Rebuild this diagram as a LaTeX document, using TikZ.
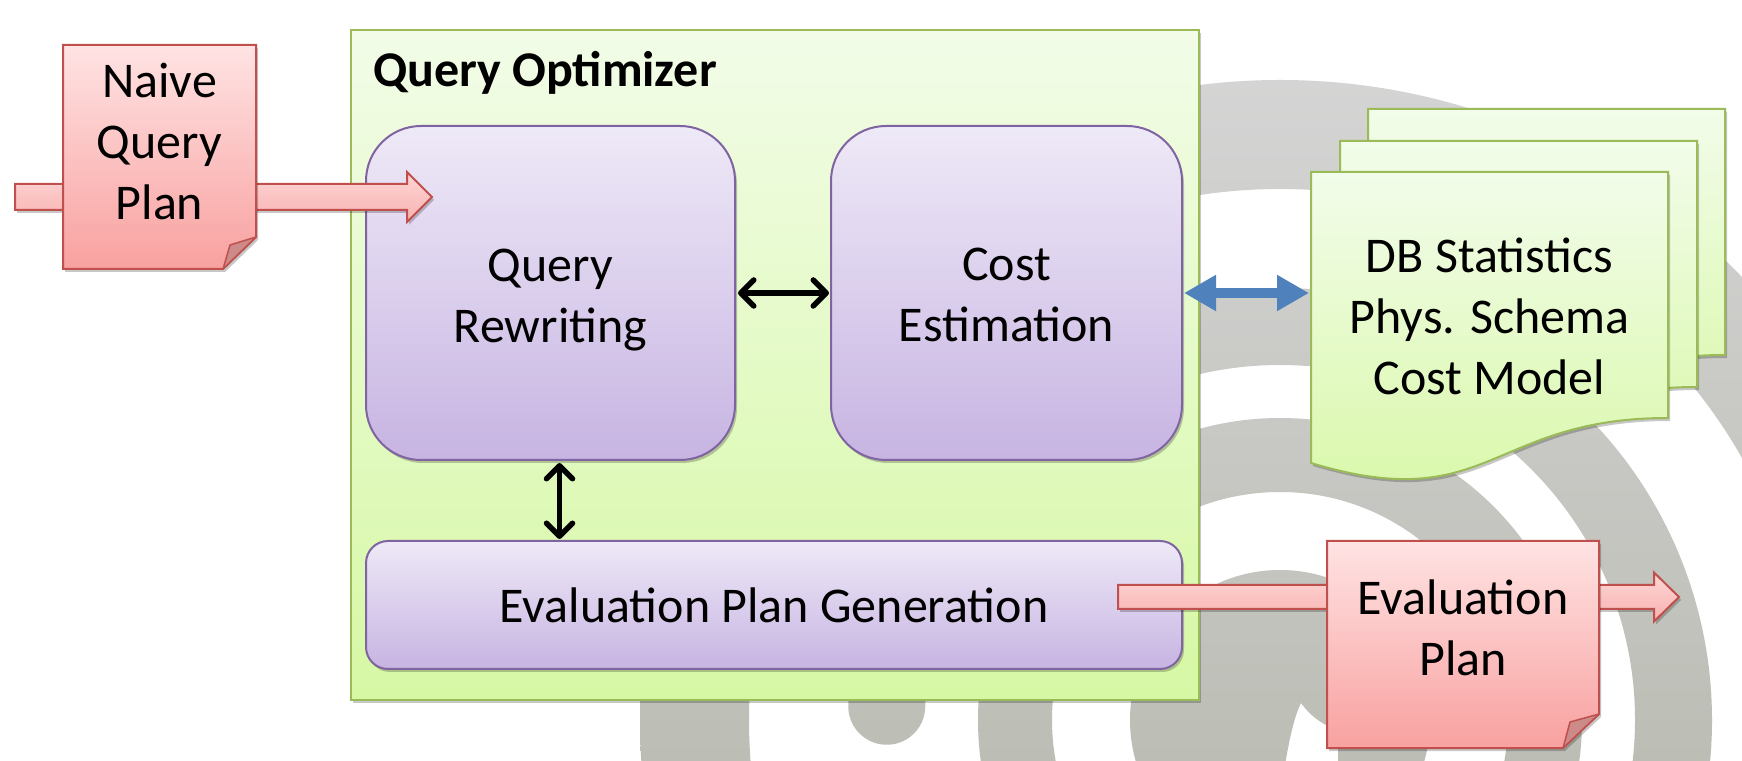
\documentclass[tikz,border=0pt]{standalone}
\usepackage{fontspec}
\setmainfont{Carlito}
\usetikzlibrary{arrows.meta,calc,shadows}

\definecolor{qotop}{HTML}{F2FCE8}
\definecolor{qobot}{HTML}{D6F8A4}
\definecolor{qoline}{HTML}{9BBB59}
\definecolor{ptop}{HTML}{EEE9F7}
\definecolor{pbot}{HTML}{C7B4E2}
\definecolor{pline}{HTML}{8064A2}
\definecolor{rtop}{HTML}{FFE3E3}
\definecolor{rbot}{HTML}{F8A1A0}
\definecolor{rline}{HTML}{C0504D}
\definecolor{atop}{HTML}{FDD6D5}
\definecolor{abot}{HTML}{F8B2B1}
\definecolor{foldc}{HTML}{CC8A89}
\definecolor{gtop}{HTML}{F2FCEA}
\definecolor{gbot}{HTML}{D8F8A6}
\definecolor{blueA}{HTML}{4F81BD}
\definecolor{ringtop}{HTML}{D4D4D4}
\definecolor{ringbot}{HTML}{A7AA9A}

\newcommand\mylines[1]{\begin{tabular}[t]{@{}c@{}}#1\end{tabular}}

\begin{document}
\begin{tikzpicture}[x=1pt,y=1pt,
  txt/.style={font=\fontsize{50}{61}\selectfont, inner sep=0pt, outer sep=0pt, text=black},
  softshadow/.style={drop shadow={shadow xshift=2pt,shadow yshift=-3pt,opacity=0.22,fill=black}},
  qobox/.style={draw=qoline, line width=2pt, top color=qotop, bottom color=qobot, inner sep=0pt, outer sep=0pt, softshadow},
  procbox/.style={draw=pline, line width=2pt, top color=ptop, bottom color=pbot, inner sep=0pt, outer sep=0pt, softshadow},
  holder/.style={draw=none, fill=none, inner sep=0pt, outer sep=0pt},
  reddoc/.style={draw=rline, line width=2pt, top color=rtop, bottom color=rbot, softshadow},
  foldpart/.style={draw=rline, line width=1.5pt, fill=foldc, line join=round},
  redarrow/.style={draw=rline, line width=2pt, top color=atop, bottom color=abot, softshadow},
  greendoc/.style={draw=qoline, line width=2pt, top color=gtop, bottom color=gbot, softshadow},
  blackarrow/.style={line width=5.5pt, draw=black, {Straight Barb[length=13pt,width=26pt,round]}-{Straight Barb[length=13pt,width=26pt,round]}},
  bluearrow/.style={line width=10pt, draw=blueA, {Triangle[length=32pt,width=34pt]}-{Triangle[length=32pt,width=34pt]}}
]
\useasboundingbox (0,0) rectangle (1742,760);
\fill[white] (0,0) rectangle (1742,760);

% background logo rings
\begin{scope}
\clip (0,0) rectangle (1742,760);
\coordinate (c) at (1280,40);
\shade[even odd rule, top color=ringtop, bottom color=ringbot]
  (c) circle[radius=640] (c) circle[radius=531]
  (c) circle[radius=302] (c) circle[radius=228]
  (c) circle[radius=150]
  ($(c)+(-40:432)$) arc[start angle=-40, end angle=178, radius=432]
    arc[start angle=178, end angle=358, radius=38.5]
    arc[start angle=178, end angle=-40, radius=355] -- cycle
  (1301,57) .. controls (1312,42) and (1325,34) .. (1338,30) -- (1338,-5) -- (1285,-5) .. controls (1290,25) and (1295,45) .. (1301,57) -- cycle;
\end{scope}

% main container and process boxes
\node[qobox, minimum width=848pt, minimum height=670pt] (qo) at (775,395) {};
\node[procbox, rounded corners=55pt, minimum width=369pt, minimum height=334pt] (qr) at (550.5,467) {};
\node[procbox, rounded corners=55pt, minimum width=351pt, minimum height=334pt] (ce) at (1006.5,467) {};
\node[procbox, rounded corners=22pt, minimum width=816pt, minimum height=128pt] (epg) at (774,155) {};

\node[txt, font=\fontsize{50}{61}\selectfont\bfseries, anchor=base west] (title) at (373,673) {Query Optimizer};
\node[txt, anchor=base] (qrt) at (550.5,478) {\mylines{Query\\Rewriting}};
\node[txt, anchor=base] (cet) at (1006.5,479) {\mylines{Cost\\Estimation}};
\node[txt, anchor=base] (epgt) at (774,137) {Evaluation Plan Generation};

% document holders
\node[holder, minimum width=193pt, minimum height=224pt] (naive) at (159.5,603) {};
\node[holder, minimum width=272pt, minimum height=207pt] (eval) at (1463,115.5) {};
\node[holder, minimum width=357pt, minimum height=312pt] (db3) at (1546.5,495) {};
\node[holder, minimum width=357pt, minimum height=312pt] (db2) at (1518.5,463) {};
\node[holder, minimum width=357pt, minimum height=312pt] (db) at (1489.5,432) {};

% internal connectors
\draw[blackarrow] ($(qr.east)+(3,0)$) -- ($(ce.west)+(-2,0)$);
\coordinate (va) at ($(qr.south)+(9,-3)$);
\coordinate (vb) at (va |- epg.north);
\draw[blackarrow] (va) -- ($(vb)+(0,2)$);
\coordinate (ba) at ($(ce.east)+(2,0)$);
\coordinate (bb) at (ce.east -| db.west);
\draw[bluearrow] (ba) -- ($(bb)+(-2,0)$);

% block arrows
\coordinate (nstart) at (15,563);
\coordinate (nend) at ($(qr.north west)+(66,-71)$);
\path[redarrow] ($(nstart)+(0,13)$) -- ($(nend)+(-25,13)$) -- ($(nend)+(-25,25)$) -- (nend)
  -- ($(nend)+(-25,-25)$) -- ($(nend)+(-25,-13)$) -- ($(nstart)+(0,-13)$) -- cycle;
\coordinate (estart) at ($(epg.east)+(-64,8)$);
\coordinate (eend) at (1679,163);
\path[redarrow] ($(estart)+(0,12)$) -- ($(eend)+(-25,12)$) -- ($(eend)+(-25,24.5)$) -- (eend)
  -- ($(eend)+(-25,-24.5)$) -- ($(eend)+(-25,-12)$) -- ($(estart)+(0,-12)$) -- cycle;

% red documents
\path[reddoc] (naive.north west) -- (naive.north east) -- ($(naive.south east)+(0,32)$)
  -- ($(naive.south east)+(-33,0)$) -- (naive.south west) -- cycle;
\path[foldpart] ($(naive.south east)+(0,32)$) -- ($(naive.south east)+(-33,0)$) -- ($(naive.south east)+(-26,24)$) -- cycle;
\node[txt, anchor=base] (naivet) at (159.5,662) {\mylines{Naive\\Query\\Plan}};

\path[reddoc] (eval.north west) -- (eval.north east) -- ($(eval.south east)+(0,34)$)
  -- ($(eval.south east)+(-36,0)$) -- (eval.south west) -- cycle;
\path[foldpart] ($(eval.south east)+(0,34)$) -- ($(eval.south east)+(-36,0)$) -- ($(eval.south east)+(-29,26)$) -- cycle;
\node[txt, anchor=base] (evalt) at (1463,145) {\mylines{Evaluation\\Plan}};

% green document stack
\foreach \n in {db3,db2,db}{
  \path[greendoc] (\n.north west) -- (\n.north east) -- ($(\n.north east)+(0,-246)$)
    .. controls ($(\n.north)+(0,-246)$) and ($(\n.north)+(0,-345)$) .. ($(\n.north west)+(0,-291)$) -- cycle;
}
\node[txt, anchor=base] (dbt) at (1489.5,487) {\mylines{DB Statistics\\Phys. Schema\\Cost Model}};
\end{tikzpicture}
\end{document}
